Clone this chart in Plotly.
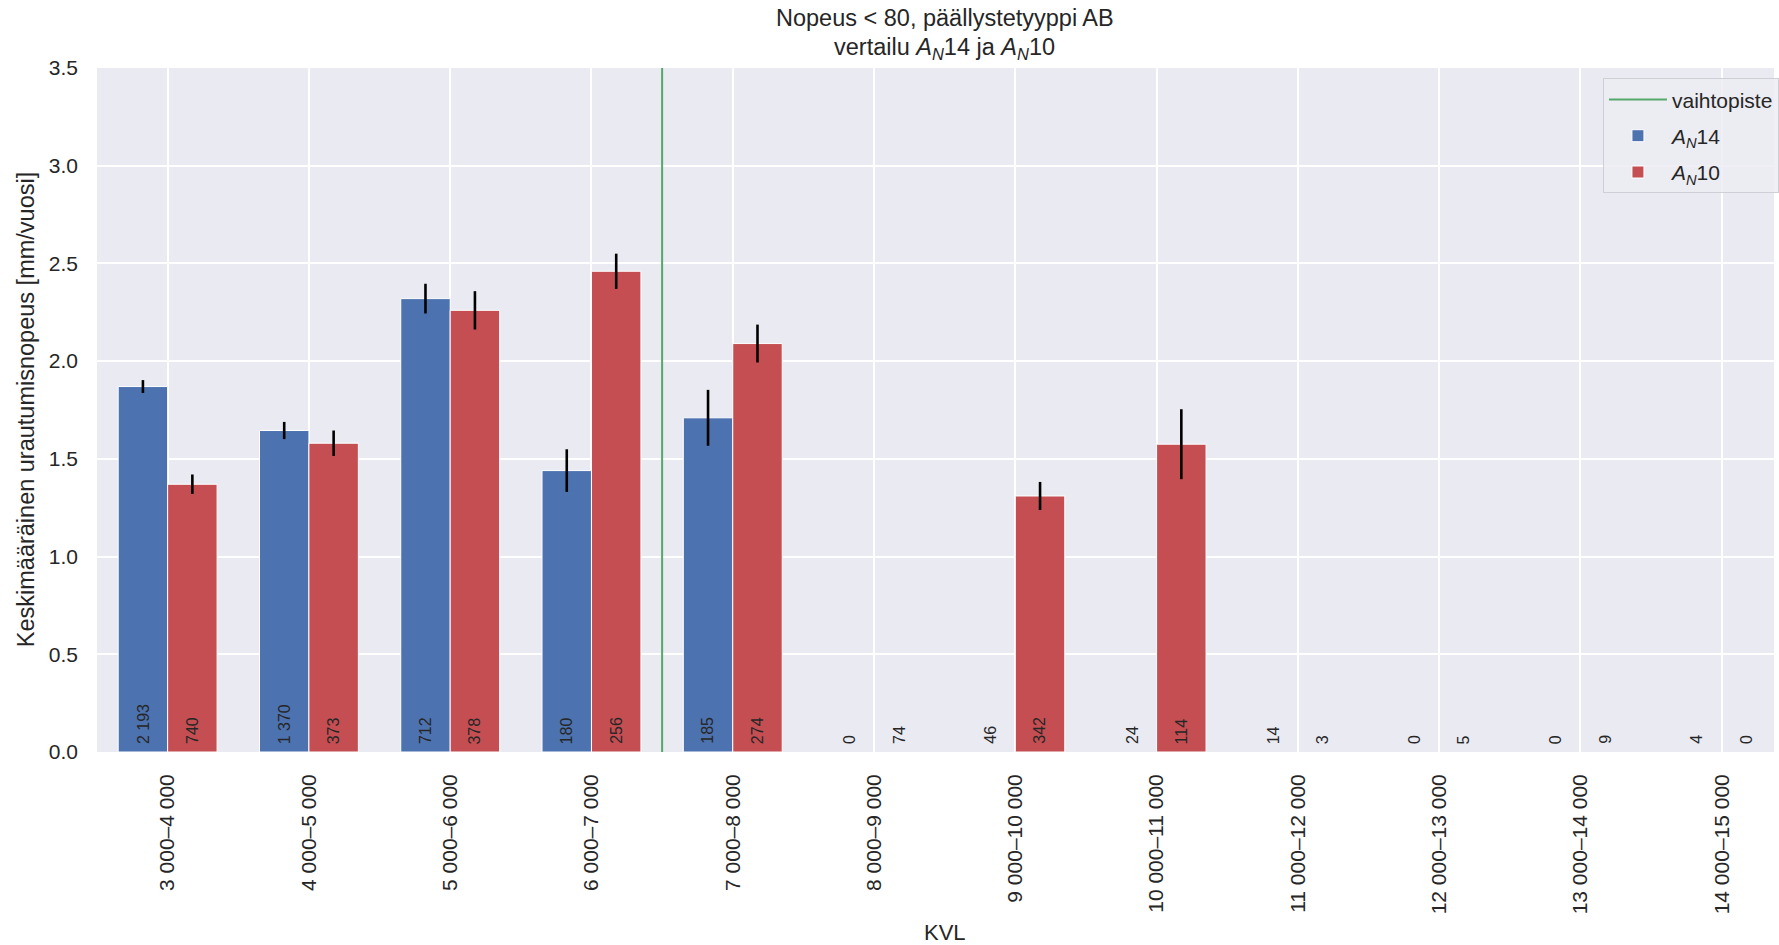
import plotly.graph_objects as go

# KVL classes (vehicles per day)
kvl_classes = [
    "3 000–4 000", "4 000–5 000", "5 000–6 000", "6 000–7 000",
    "7 000–8 000", "8 000–9 000", "9 000–10 000", "10 000–11 000",
    "11 000–12 000", "12 000–13 000", "13 000–14 000", "14 000–15 000",
]

# Mean rutting rate [mm/year] and error half-widths
an14_mean = [1.87, 1.645, 2.32, 1.44, 1.71, None, None, None, None, None, None, None]
an14_err = [0.033, 0.044, 0.076, 0.109, 0.143, None, None, None, None, None, None, None]
an10_mean = [1.37, 1.58, 2.26, 2.46, 2.09, None, 1.31, 1.575, None, None, None, None]
an10_err = [0.05, 0.065, 0.098, 0.09, 0.097, None, 0.072, 0.179, None, None, None, None]

# Number of road sections in each class
an14_count = [2193, 1370, 712, 180, 185, 0, 46, 24, 14, 0, 0, 4]
an10_count = [740, 373, 378, 256, 274, 74, 342, 114, 3, 5, 9, 0]

# Switch point between the two pavement types (between classes)
switch_point = 3.5

FONT = "Liberation Sans, Arial, sans-serif"
TEXT = "#262626"
BLUE = "#4c72b0"
RED = "#c44e52"
GREEN = "#55a868"
BAR_W = 0.35
AN14 = "<i>A</i><sub><i>N</i></sub>14"
AN10 = "<i>A</i><sub><i>N</i></sub>10"

idx = list(range(len(kvl_classes)))

fig = go.Figure()

fig.add_trace(go.Scatter(
    x=[switch_point, switch_point], y=[0, 3.5], mode="lines",
    line=dict(color=GREEN, width=2), name="vaihtopiste",
    legendgroup="a", hoverinfo="skip",
))

fig.add_trace(go.Bar(
    x=idx, y=an14_mean, width=BAR_W, offset=-BAR_W,
    marker=dict(color=BLUE, line=dict(color="white", width=1)),
    error_y=dict(type="data", array=an14_err, color="black", thickness=2.6, width=0),
    name=AN14, legendgroup="b",
))

fig.add_trace(go.Bar(
    x=idx, y=an10_mean, width=BAR_W, offset=0,
    marker=dict(color=RED, line=dict(color="white", width=1)),
    error_y=dict(type="data", array=an10_err, color="black", thickness=2.6, width=0),
    name=AN10, legendgroup="c",
))


def fmt(n):
    return f"{n:,}".replace(",", " ")


annotations = []
for i in idx:
    for n, dx in ((an14_count[i], -BAR_W / 2), (an10_count[i], BAR_W / 2)):
        annotations.append(dict(
            x=i + dx, y=0.03, xref="x", yref="y", text=fmt(n),
            textangle=-90, showarrow=False, xanchor="center", yanchor="bottom",
            font=dict(family=FONT, size=16, color=TEXT),
        ))

# two-line title
annotations.append(dict(
    x=0.5055, y=1.0731, xref="paper", yref="paper",
    text="Nopeus < 80, päällystetyyppi AB",
    showarrow=False, xanchor="center", yanchor="middle",
    font=dict(family=FONT, size=23.5, color=TEXT),
))
annotations.append(dict(
    x=0.5055, y=1.0292, xref="paper", yref="paper",
    text=f"vertailu {AN14} ja {AN10}",
    showarrow=False, xanchor="center", yanchor="middle",
    font=dict(family=FONT, size=23.5, color=TEXT),
))

# axis titles
annotations.append(dict(
    x=0.5055, y=-0.2646, xref="paper", yref="paper", text="KVL",
    showarrow=False, xanchor="center", yanchor="middle",
    font=dict(family=FONT, size=22, color=TEXT),
))
annotations.append(dict(
    x=-0.0422, y=0.5, xref="paper", yref="paper",
    text="Keskimääräinen urautumisnopeus [mm/vuosi]",
    textangle=-90, showarrow=False, xanchor="center", yanchor="middle",
    font=dict(family=FONT, size=23.5, color=TEXT),
))

fig.update_layout(
    width=1779, height=945,
    margin=dict(l=97, r=0, t=68, b=193),
    paper_bgcolor="white",
    plot_bgcolor="#eaeaf2",
    barmode="overlay",
    font=dict(family=FONT, color=TEXT),
    xaxis=dict(
        range=[-0.5, 11.37], tickmode="array", tickvals=idx, ticktext=kvl_classes,
        tickangle=-90, showgrid=True, gridcolor="white", gridwidth=1.5,
        zeroline=False, showline=False, ticks="", ticklabelstandoff=17,
        tickfont=dict(family=FONT, size=21, color=TEXT),
    ),
    yaxis=dict(
        range=[0, 3.5], dtick=0.5, tickformat=".1f",
        showgrid=True, gridcolor="white", gridwidth=1.5,
        zeroline=False, showline=False, ticks="", ticklabelstandoff=18,
        tickfont=dict(family=FONT, size=21, color=TEXT),
    ),
    legend=dict(
        x=0.898, y=0.985, xanchor="left", yanchor="top",
        bgcolor="rgba(236,236,243,0.85)", bordercolor="#cfcfd6", borderwidth=1,
        font=dict(family=FONT, size=21, color=TEXT),
        traceorder="grouped", tracegroupgap=6, itemwidth=58,
    ),
    annotations=annotations,
    showlegend=True,
)

fig.write_html("out.html")
